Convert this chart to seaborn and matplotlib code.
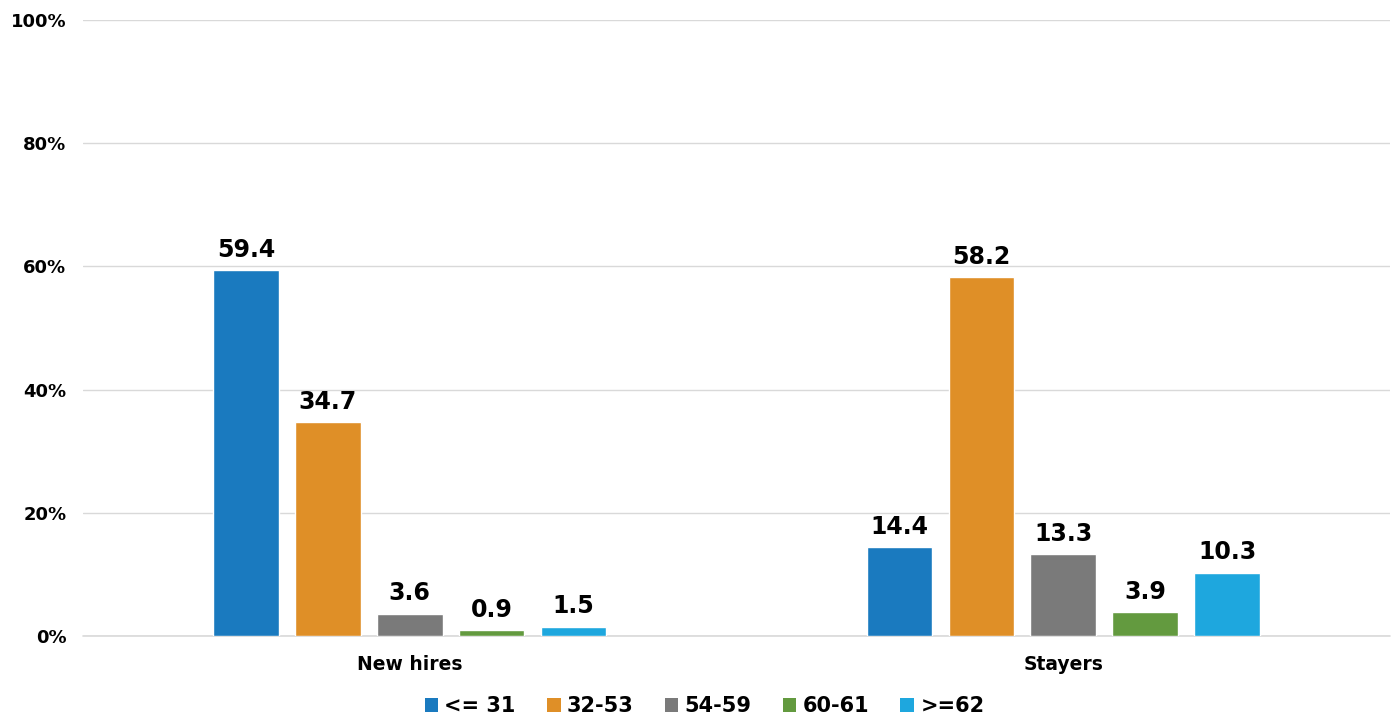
import matplotlib
matplotlib.use("Agg")
import matplotlib.pyplot as plt
import seaborn as sns
import pandas as pd
from matplotlib.patches import Patch

groups = ["New hires", "Stayers"]
ages = ["<= 31", "32-53", "54-59", "60-61", ">=62"]
new_hires = [59.4, 34.7, 3.6, 0.9, 1.5]
stayers = [14.4, 58.2, 13.3, 3.9, 10.3]
yticks = [0, 20, 40, 60, 80, 100]
colors = ["#1a7abf", "#df8f27", "#7a7a7a", "#639a3f", "#1ea7de"]

rows = []
for a, v in zip(ages, new_hires):
    rows.append({"group": groups[0], "age": a, "value": v})
for a, v in zip(ages, stayers):
    rows.append({"group": groups[1], "age": a, "value": v})
df = pd.DataFrame(rows)

sns.set_theme(style="white")
plt.rcParams["font.family"] = ["DejaVu Sans"]
plt.rcParams["text.color"] = "black"

fig = plt.figure(figsize=(13.95, 7.25), dpi=100)
ax = fig.add_axes([0.0595, 0.1228, 0.9369, 0.8496])

sns.barplot(data=df, x="group", y="value", hue="age", hue_order=ages,
            order=groups, palette=colors, width=0.627, gap=0.2,
            saturation=1, ax=ax, legend=False)

for cont in ax.containers:
    ax.bar_label(cont, labels=[f"{v:.1f}" for v in cont.datavalues],
                 padding=6, fontsize=17, fontweight="bold", color="black")

ax.set_ylim(0, 100)
ax.set_xlim(-0.5, 1.5)
ax.set_yticks(yticks)
ax.set_yticklabels([f"{t}%" for t in yticks], fontsize=13, fontweight="bold", color="black")
ax.tick_params(axis="y", length=0, pad=12)
ax.tick_params(axis="x", length=0, pad=14)
for lbl in ax.get_xticklabels():
    lbl.set_fontsize(13.5)
    lbl.set_fontweight("bold")
    lbl.set_color("black")
ax.set_xlabel("")
ax.set_ylabel("")
ax.yaxis.grid(True, color="#d9d9d9", linewidth=1)
ax.axhline(0, color="#d9d9d9", linewidth=1.2, clip_on=False, zorder=0)
ax.set_axisbelow(True)
for s in ax.spines.values():
    s.set_visible(False)

handles = [Patch(facecolor=c, edgecolor="none") for c in colors]
leg = fig.legend(handles, ages, loc="lower center", bbox_to_anchor=(0.505, -0.014),
                 ncol=5, frameon=False, prop={"size": 15, "weight": "bold"},
                 handlelength=0.65, handleheight=0.65, handletextpad=0.3, columnspacing=1.5)
for t in leg.get_texts():
    t.set_color("black")

fig.savefig("out.png", dpi=100)
